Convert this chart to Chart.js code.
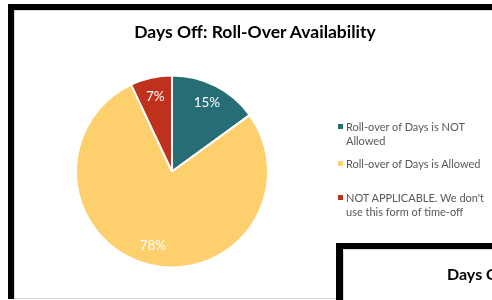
<!DOCTYPE html>
<html>
<head>
<meta charset="utf-8">
<script src="https://cdn.jsdelivr.net/npm/chart.js@4"></script>
<style>
    html, body { margin: 0; padding: 0; background: #fff; overflow: hidden; }
    body { width: 492px; height: 300px; position: relative; font-family: Lato, "Open Sans", sans-serif; }
    #box1 { position: absolute; left: 8px; top: 4px; width: 600px; height: 289px;
            border-left: 6px solid #000; border-top: 6px solid #000; }
    #box1 .inner { position: absolute; left: 0; top: 0; right: 0; bottom: 0; border-left: 1px solid #d9d9d9;
            border-top: 1px solid #d9d9d9; border-bottom: 1px solid #d9d9d9; }
    #chartWrap { position: absolute; left: 0; top: 0; width: 492px; height: 300px; }
    #title { position: absolute; left: 55px; width: 400px; top: 21px; text-align: center;
             font-weight: bold; font-size: 17.5px; color: #000; }
    #legend { position: absolute; left: 338px; top: 120px; font-size: 11px; color: #595959; }
    #legend .item { position: absolute; left: 0; white-space: nowrap; line-height: 13.5px; }
    #legend .mark { position: absolute; left: 0; top: 4px; width: 5px; height: 5px; }
    #legend .txt { position: absolute; left: 8px; top: 0; }
    #box2 { position: absolute; left: 336px; top: 243px; width: 300px; height: 100px; background: #fff;
            border-left: 7px solid #000; border-top: 6px solid #000; }
    #box2 .inner { position: absolute; left: 0; top: 0; right: 0; bottom: 0; border-left: 1px solid #d9d9d9;
            border-top: 1px solid #d9d9d9; }
    #title2 { position: absolute; left: 104px; top: 15px; font-weight: bold; font-size: 16px; white-space: nowrap; }
</style>
</head>
<body>
<div id="box1"><div class="inner"></div></div>
<div id="chartWrap"><canvas id="pieChart"></canvas></div>
<div id="title">Days Off: Roll-Over Availability</div>
<div id="legend"></div>
<div id="box2"><div class="inner"></div><div id="title2">Days Off: Roll-Over</div></div>

<script>
// categories (legend lines) and values in percent
const categories = [
    ["Roll-over of Days is NOT", "Allowed"],
    ["Roll-over of Days is Allowed"],
    ["NOT APPLICABLE. We don't", "use this form of time-off"]
];
const values = [15, 78, 7];
const valueLabels = ["15%", "78%", "7%"];
const colors = ["#276d75", "#fdcf6d", "#c0311d"];

// legend rows top offsets (relative to legend box)
const legendTops = [0, 37, 71];

// draw the percent labels inside the slices
const sliceLabels = {
    id: "sliceLabels",
    afterDatasetsDraw(chart) {
        const ctx = chart.ctx;
        const meta = chart.getDatasetMeta(0);
        ctx.save();
        ctx.fillStyle = "#fff";
        ctx.font = "13.5px Lato";
        ctx.textAlign = "center";
        ctx.textBaseline = "middle";
        meta.data.forEach((arc, i) => {
            const p = arc.getProps(["x", "y", "startAngle", "endAngle", "outerRadius"], true);
            const mid = (p.startAngle + p.endAngle) / 2;
            const r = p.outerRadius * 0.8;
            ctx.fillText(valueLabels[i], p.x + Math.cos(mid) * r, p.y + Math.sin(mid) * r);
        });
        ctx.restore();
    }
};

const chart = new Chart(document.getElementById("pieChart"), {
    type: "pie",
    data: {
        labels: categories,
        datasets: [{
            data: values,
            backgroundColor: colors,
            borderColor: "#fff",
            borderWidth: 2,
            hoverOffset: 0
        }]
    },
    options: {
        responsive: true,
        maintainAspectRatio: false,
        animation: false,
        radius: 96,
        layout: { padding: { left: 72, right: 220, top: 71.5, bottom: 28.5 } },
        plugins: {
            legend: { display: false },
            title: { display: false },
            tooltip: { enabled: false }
        }
    },
    plugins: [sliceLabels]
});

// html legend built from the chart data
const legendEl = document.getElementById("legend");
chart.data.labels.forEach((lines, i) => {
    const item = document.createElement("div");
    item.className = "item";
    item.style.top = legendTops[i] + "px";
    item.innerHTML = `<span class="mark" style="background:${colors[i]}"></span><span class="txt">${lines.join("<br>")}</span>`;
    legendEl.appendChild(item);
});
</script>
</body>
</html>
